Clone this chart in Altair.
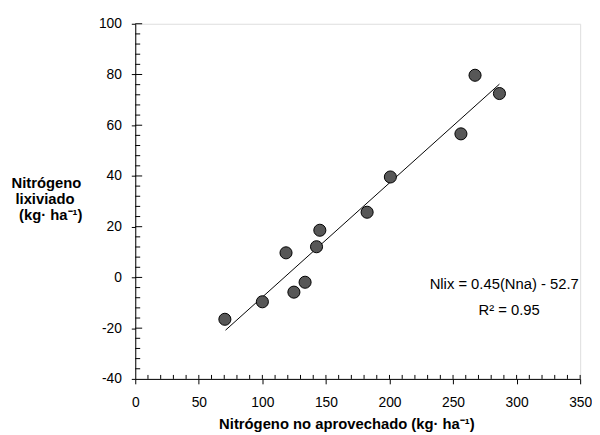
import altair as alt
import pandas as pd

# Data
nna = [70.5, 100, 118.6, 124.8, 133.6, 142.6, 145.2, 182.4, 200.7, 256.2, 267.3, 286.5]
nlix = [-16.5, -9.6, 9.7, -5.8, -1.9, 12.1, 18.6, 25.7, 39.6, 56.6, 79.7, 72.5]
fit_x = [71, 286.5]
fit_y = [-20.8, 76.2]
x_ticks = [0, 50, 100, 150, 200, 250, 300, 350]
y_ticks = [-40, -20, 0, 20, 40, 60, 80, 100]
x_minor = list(range(10, 351, 10))
y_minor = list(range(-36, 101, 4))
y_title_lines = ["Nitrógeno", "lixiviado", "(kg· ha⁻¹)"]
x_title = "Nitrógeno no aprovechado (kg· ha⁻¹)"
eq_lines = ["Nlix = 0.45(Nna) - 52.7", "R² = 0.95"]

FONT = "Liberation Sans"
W, H = 451, 360

pts = pd.DataFrame({"x": nna, "y": nlix})
fit = pd.DataFrame({"x": fit_x, "y": fit_y})
xm = pd.DataFrame({"x": x_minor})
ym_minor = pd.DataFrame({"y": [v for v in y_minor if v % 20 != 0]})
ym_major = pd.DataFrame({"y": [v for v in y_minor if v % 20 == 0]})

xscale = alt.Scale(domain=[0, 350], nice=False, zero=False)
yscale = alt.Scale(domain=[-40, 100], nice=False, zero=False)
xaxis = alt.Axis(values=x_ticks, title=None, tickSize=5, labelPadding=12, grid=False,
                 labelFontSize=14, labelFont=FONT, labelColor="black",
                 domainColor="black", tickColor="black", labelFlush=False,
                 labelExpr="'' + datum.value")
yaxis = alt.Axis(values=y_ticks, title=None, tickSize=4, labelPadding=10, grid=False,
                 labelFontSize=14, labelFont=FONT, labelColor="black",
                 domainColor="black", tickColor="black",
                 labelExpr="'' + datum.value")

X = lambda f: alt.X(f, type="quantitative", scale=xscale, axis=xaxis)
Y = lambda f: alt.Y(f, type="quantitative", scale=yscale, axis=yaxis)

line = alt.Chart(fit).mark_line(color="black", strokeWidth=1).encode(x=X("x"), y=Y("y"))
points = alt.Chart(pts).mark_point(filled=True, size=150, fill="#575757", stroke="black",
                                   strokeWidth=1, opacity=1).encode(x=X("x"), y=Y("y"))

xin = alt.Chart(xm).mark_rule(color="black", strokeWidth=1).encode(
    x=X("x"), y=alt.value(H), y2=alt.value(H - 4))
yin_minor = alt.Chart(ym_minor).mark_rule(color="black", strokeWidth=1).encode(
    y=Y("y"), x=alt.value(0), x2=alt.value(5))
yin_major = alt.Chart(ym_major).mark_rule(color="black", strokeWidth=1).encode(
    y=Y("y"), x=alt.value(0), x2=alt.value(7))

ytitle = alt.Chart(pd.DataFrame({"t": y_title_lines, "yy": [166, 182.5, 199], "xx": [-90, -91.5, -85.7]})).mark_text(
    font=FONT, fontSize=15, fontWeight="bold", color="black", align="center", baseline="alphabetic"
).encode(text="t:N", x=alt.X("xx:Q", scale=None), y=alt.Y("yy:Q", scale=None))

xtitle = alt.Chart(pd.DataFrame({"t": [x_title]})).mark_text(
    font=FONT, fontSize=15, fontWeight="bold", color="black", align="center", baseline="alphabetic"
).encode(text="t:N", x=alt.value(214.5), y=alt.value(H + 50.5))

eq = alt.Chart(pd.DataFrame({"t": eq_lines, "yy": [269, 295], "xx": [374, 379]})).mark_text(
    font=FONT, fontSize=15, color="black", align="center", baseline="alphabetic"
).encode(text="t:N", x=alt.X("xx:Q", scale=None), y=alt.Y("yy:Q", scale=None))

chart = alt.layer(xin, yin_minor, yin_major, line, points, ytitle, xtitle, eq).properties(
    width=W, height=H,
    autosize=alt.AutoSizeParams(type="none"),
    padding={"left": 129, "top": 13, "right": 12, "bottom": 62},
).configure_view(stroke=None).configure(background="white")

chart.save("out.html", embed_options={"renderer": "svg", "actions": False})
